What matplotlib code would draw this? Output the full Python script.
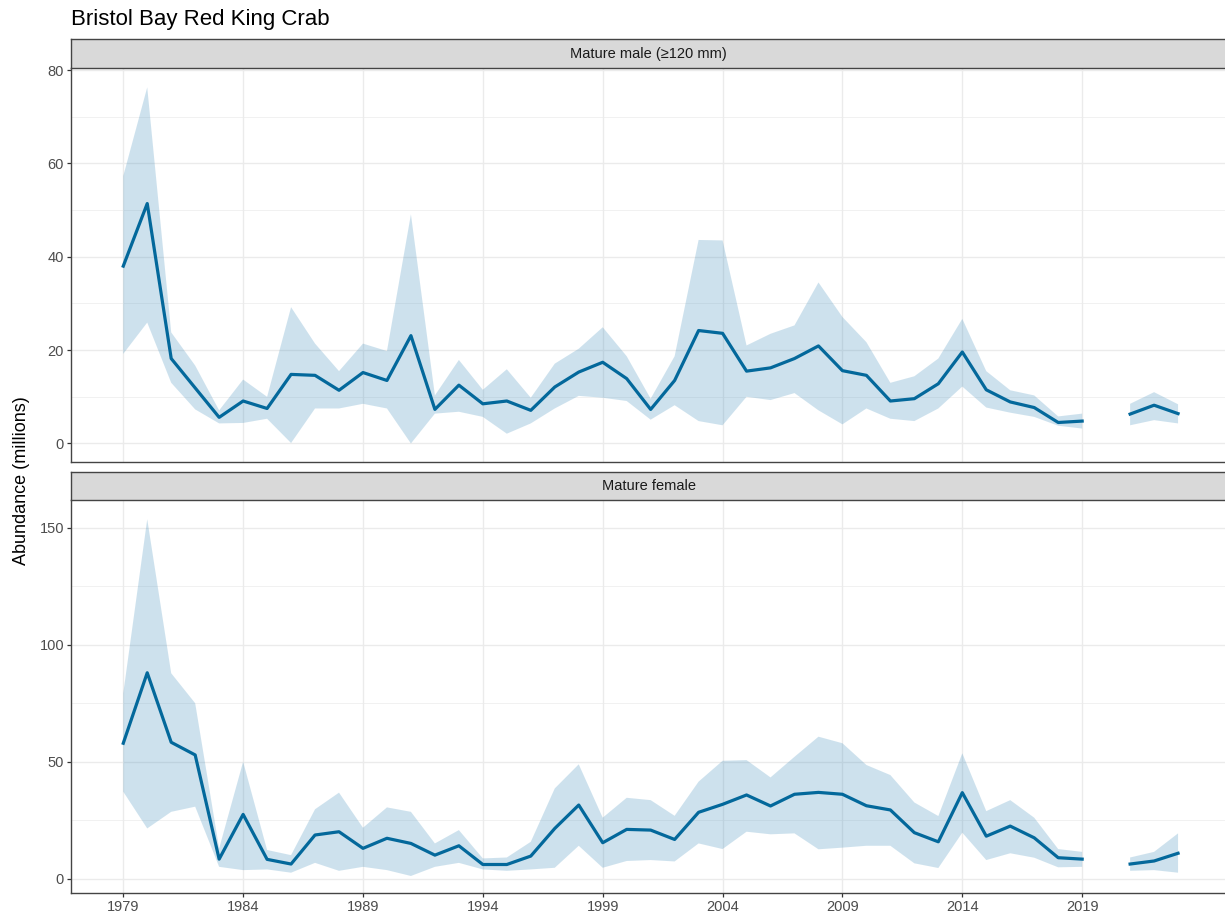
import matplotlib
matplotlib.use('Agg')
import matplotlib.pyplot as plt
import numpy as np
from matplotlib.ticker import MultipleLocator

plt.rcParams['font.family'] = ['Liberation Sans', 'DejaVu Sans']

nan = np.nan
years = list(range(1979, 2024))

# Mature male (>=120 mm), millions
male_est = [38.0, 51.4, 18.2, 11.9, 5.6, 9.1, 7.5, 14.8, 14.6, 11.4, 15.2,
            13.5, 23.1, 7.3, 12.5, 8.5, 9.1, 7.1, 12.1, 15.3, 17.4,
            13.9, 7.3, 13.5, 24.2, 23.6, 15.5, 16.2, 18.2, 20.9, 15.6,
            14.6, 9.1, 9.6, 12.8, 19.6, 11.5, 8.9, 7.7, 4.5, 4.8,
            nan, 6.3, 8.2, 6.4]
male_hi = [57.3, 76.3, 23.8, 16.7, 7.1, 13.7, 10.0, 29.2, 21.4, 15.5, 21.4,
           19.8, 49.1, 10.3, 17.9, 11.5, 15.9, 9.8, 17.1, 20.3, 24.9,
           18.7, 9.6, 18.7, 43.6, 43.5, 21.0, 23.5, 25.3, 34.5, 27.1,
           21.7, 13.0, 14.4, 18.2, 26.7, 15.5, 11.4, 10.3, 5.8, 6.4,
           nan, 8.5, 11.0, 8.4]
male_lo = [19.2, 25.9, 13.0, 7.3, 4.3, 4.4, 5.3, 0.1, 7.5, 7.5, 8.5,
           7.5, 0.0, 6.4, 6.8, 5.7, 2.1, 4.3, 7.5, 10.2, 9.8,
           9.1, 5.1, 8.2, 4.8, 3.9, 10.0, 9.3, 10.8, 7.1, 4.1,
           7.5, 5.3, 4.8, 7.5, 12.2, 7.7, 6.6, 5.7, 3.8, 3.2,
           nan, 3.9, 5.0, 4.3]

# Mature female, millions
female_est = [57.9, 88.0, 58.3, 52.9, 8.4, 27.5, 8.3, 6.3, 18.7, 20.1, 13.0,
              17.3, 15.1, 10.1, 14.1, 6.1, 6.1, 9.7, 21.5, 31.5, 15.4,
              21.1, 20.8, 16.8, 28.4, 31.8, 35.8, 31.1, 36.1, 36.9, 36.1,
              31.2, 29.4, 19.7, 15.8, 36.8, 18.2, 22.5, 17.5, 9.0, 8.4,
              nan, 6.3, 7.6, 10.9]
female_hi = [79.2, 153.6, 87.8, 75.0, 13.0, 50.0, 12.3, 10.1, 29.7, 36.8, 21.8,
             30.5, 28.6, 15.1, 20.8, 8.7, 9.1, 15.8, 38.6, 48.9, 26.1,
             34.6, 33.6, 26.9, 41.5, 50.4, 50.7, 43.3, 52.1, 60.7, 57.9,
             48.6, 44.3, 32.6, 26.8, 53.6, 28.9, 33.6, 26.1, 12.7, 11.5,
             nan, 9.1, 11.5, 19.4]
female_lo = [37.2, 21.5, 28.6, 30.8, 5.1, 3.7, 4.0, 2.6, 6.8, 3.4, 5.1,
             3.7, 1.2, 5.1, 6.8, 4.0, 3.4, 4.0, 4.7, 14.1, 4.7,
             7.6, 8.0, 7.4, 15.1, 12.7, 20.1, 19.0, 19.4, 12.6, 13.3,
             14.1, 14.1, 6.6, 4.6, 19.7, 8.0, 10.9, 9.0, 4.9, 5.1,
             nan, 3.4, 3.7, 2.6]

panel_labels = ['Mature male (\u2265120 mm)', 'Mature female']
year_ticks = list(range(1979, 2024, 5))

LINE = '#03689b'
BAND = '#3b8bba'
BORDER = '#444444'
W, H = 1225, 919


def fig_box(x0, y0, x1, y1):
    # pixel box (top-left origin) -> figure fraction rect
    return [x0 / W, 1 - y1 / H, (x1 - x0) / W, (y1 - y0) / H]


def draw_panel(ax, est, lo, hi, ylim, major, minor, show_x):
    ax.fill_between(years, lo, hi, color=BAND, alpha=0.25, lw=0, zorder=2)
    ax.plot(years, est, color=LINE, lw=2.3, zorder=3)
    ax.set_xlim(1976.82, 2025.0)
    ax.set_ylim(*ylim)
    ax.yaxis.set_major_locator(MultipleLocator(major))
    ax.yaxis.set_minor_locator(MultipleLocator(minor))
    ax.set_xticks(year_ticks)
    ax.grid(which='major', color='#ebebeb', lw=1.0, zorder=0)
    ax.grid(which='minor', axis='y', color='#ebebeb', lw=0.5, zorder=0)
    ax.set_axisbelow(True)
    for side in ['top', 'right']:
        ax.spines[side].set_visible(False)
    for side in ['left', 'bottom']:
        ax.spines[side].set_color(BORDER)
        ax.spines[side].set_linewidth(1.0)
    ax.tick_params(which='major', length=3, width=0.9, color='#333333',
                   labelcolor='#4d4d4d', labelsize=10.5, pad=2)
    ax.tick_params(which='minor', length=0)
    ax.tick_params(axis='x', bottom=show_x, labelbottom=show_x)


def draw_strip(fig, rect, label):
    sax = fig.add_axes(rect)
    sax.set_facecolor('#d9d9d9')
    sax.set_xticks([])
    sax.set_yticks([])
    for side in sax.spines.values():
        side.set_color(BORDER)
        side.set_linewidth(1.0)
    sax.spines['right'].set_visible(False)
    sax.text(0.5, 0.48, label, transform=sax.transAxes, ha='center', va='center',
             fontsize=10.5, color='#1a1a1a')


fig = plt.figure(figsize=(12.25, 9.19), dpi=100)

ax_top = fig.add_axes(fig_box(71, 67.7, 1226, 461.7))
draw_panel(ax_top, male_est, male_lo, male_hi, (-3.9, 80.5), 20, 10, False)
draw_strip(fig, fig_box(71, 39, 1226, 67.7), panel_labels[0])

ax_bot = fig.add_axes(fig_box(71, 500, 1226, 893.3))
draw_panel(ax_bot, female_est, female_lo, female_hi, (-6.2, 161.8), 50, 25, True)
draw_strip(fig, fig_box(71, 471.7, 1226, 500), panel_labels[1])

fig.text(71 / W, 1 - 25 / H, 'Bristol Bay Red King Crab', ha='left', va='baseline',
         fontsize=16, color='black')
fig.text(22 / W, 1 - 481 / H, 'Abundance (millions)', rotation=90, ha='center',
         va='center', fontsize=13, color='black')

fig.savefig('out.png', dpi=100, facecolor='white')
